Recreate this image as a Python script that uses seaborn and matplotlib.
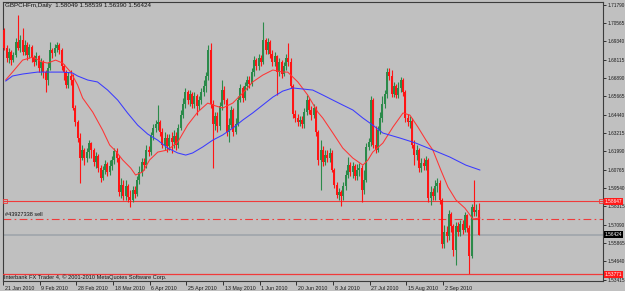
import numpy as np
import pandas as pd
import seaborn as sns
import matplotlib.pyplot as plt
import matplotlib.transforms as mtransforms

# daily GBPCHF bars, 21 Jan 2010 .. Sep 2010
first_open = 1.7009
closes = [
    1.6889, 1.6822, 1.6862, 1.6808, 1.6842, 1.6929, 1.6889, 1.6942, 1.6862, 1.6909,
    1.6842, 1.6895, 1.6822, 1.6795, 1.6835, 1.6755, 1.6795, 1.6728, 1.6675, 1.6755,
    1.6875, 1.6855, 1.6889, 1.6909, 1.6875, 1.6768, 1.6728, 1.6642, 1.6702, 1.6675,
    1.6488, 1.6395, 1.6288, 1.6154, 1.6208, 1.6154, 1.6194, 1.6254, 1.6208, 1.6127,
    1.6168, 1.6087, 1.6021, 1.6074, 1.6114, 1.6061, 1.6101, 1.6141, 1.6201, 1.6154,
    1.5927, 1.5974, 1.5901, 1.5967, 1.5894, 1.5874, 1.5941, 1.5914, 1.6007, 1.6061,
    1.6127, 1.6107, 1.6208, 1.6194, 1.6308, 1.6354, 1.6381, 1.6395, 1.6328, 1.6241,
    1.6288, 1.6234, 1.6288, 1.6261, 1.6301, 1.6241, 1.6354, 1.6441, 1.6515, 1.6595,
    1.6541, 1.6581, 1.6515, 1.6568, 1.6501, 1.6541, 1.6595, 1.6635, 1.6702, 1.6875,
    1.6515, 1.6381, 1.6435, 1.6368, 1.6501, 1.6608, 1.6541, 1.6328, 1.6374, 1.6475,
    1.6328, 1.6381, 1.6541, 1.6622, 1.6555, 1.6635, 1.6675, 1.6648, 1.6728, 1.6808,
    1.6768, 1.6822, 1.6795, 1.6942, 1.6875, 1.6929, 1.6848, 1.6795, 1.6835, 1.6728,
    1.6795, 1.6715, 1.6768, 1.6822, 1.6795, 1.6635, 1.6448, 1.6421, 1.6395, 1.6408,
    1.6381, 1.6461, 1.6541, 1.6475, 1.6441, 1.6488, 1.6328, 1.6141, 1.6208, 1.6127,
    1.6174, 1.6154, 1.6188, 1.6074, 1.5974, 1.5907, 1.5927, 1.5901, 1.5967, 1.6041,
    1.6107, 1.6061, 1.6101, 1.6034, 1.6074, 1.6087, 1.5941, 1.6007, 1.6228, 1.6261,
    1.6541, 1.6241, 1.6208, 1.6341, 1.6421, 1.6515, 1.6581, 1.6728, 1.6702, 1.6581,
    1.6635, 1.6575, 1.6622, 1.6675, 1.6595, 1.6421, 1.6395, 1.6401, 1.6241, 1.6174,
    1.6208, 1.6087, 1.6121, 1.6101, 1.6141, 1.5887, 1.5927, 1.5901, 1.5967, 1.5987,
    1.5874, 1.5580, 1.5660, 1.5633, 1.5780, 1.5700, 1.5540, 1.5700, 1.5660, 1.5714,
    1.5674, 1.5774, 1.5687, 1.5500, 1.5827, 1.5794, 1.58049, 1.56424,
]
highs = [
    1.7022, 1.6909, 1.6889, 1.6875, 1.6862, 1.6955, 1.7109, 1.6975, 1.7022, 1.6942,
    1.6929, 1.6915, 1.6909, 1.6842, 1.6862, 1.6842, 1.6822, 1.6808, 1.6742, 1.6795,
    1.6929, 1.6889, 1.6915, 1.6929, 1.6922, 1.6889, 1.6782, 1.6742, 1.6728, 1.6742,
    1.6715, 1.6508, 1.6408, 1.6321, 1.6241, 1.6221, 1.6221, 1.6274, 1.6261, 1.6221,
    1.6194, 1.6181, 1.6107, 1.6101, 1.6141, 1.6127, 1.6141, 1.6168, 1.6221, 1.6221,
    1.6174, 1.6021, 1.6007, 1.6007, 1.5981, 1.5941, 1.5967, 1.5967, 1.6034, 1.6101,
    1.6154, 1.6154, 1.6241, 1.6234, 1.6328, 1.6381, 1.6408, 1.6508, 1.6408, 1.6354,
    1.6328, 1.6314, 1.6314, 1.6328, 1.6341, 1.6328, 1.6381, 1.6475, 1.6555, 1.6622,
    1.6608, 1.6608, 1.6595, 1.6595, 1.6581, 1.6568, 1.6622, 1.6675, 1.6728, 1.6909,
    1.6922, 1.6541, 1.6461, 1.6461, 1.6528, 1.6675, 1.6635, 1.6555, 1.6421, 1.6501,
    1.6488, 1.6421, 1.6568, 1.6648, 1.6635, 1.6662, 1.6702, 1.6702, 1.6755, 1.6835,
    1.6822, 1.6848, 1.6842, 1.7062, 1.6955, 1.6955, 1.6942, 1.6875, 1.6862, 1.6842,
    1.6822, 1.6808, 1.6795, 1.6848, 1.6922, 1.6822, 1.6648, 1.6475, 1.6448, 1.6435,
    1.6435, 1.6488, 1.6575, 1.6555, 1.6501, 1.6515, 1.6501, 1.6341, 1.6274, 1.6234,
    1.6208, 1.6208, 1.6221, 1.6208, 1.6087, 1.5994, 1.5954, 1.5941, 1.5994, 1.6074,
    1.6161, 1.6127, 1.6127, 1.6114, 1.6114, 1.6121, 1.6107, 1.6074, 1.6254, 1.6288,
    1.6568, 1.6555, 1.6368, 1.6368, 1.6461, 1.6568, 1.6608, 1.6755, 1.6755, 1.6742,
    1.6662, 1.6648, 1.6662, 1.6695, 1.6688, 1.6608, 1.6448, 1.6435, 1.6421, 1.6274,
    1.6241, 1.6221, 1.6154, 1.6154, 1.6168, 1.6154, 1.5967, 1.5954, 1.6007, 1.6021,
    1.6007, 1.5887, 1.5707, 1.5700, 1.5807, 1.5794, 1.5714, 1.5727, 1.5727, 1.5740,
    1.5740, 1.5794, 1.5780, 1.5707, 1.5847, 1.6007, 1.5847, 1.58539,
]
lows = [
    1.6875, 1.6795, 1.6788, 1.6775, 1.6795, 1.6828, 1.6875, 1.6862, 1.6842, 1.6842,
    1.6808, 1.6822, 1.6795, 1.6768, 1.6775, 1.6728, 1.6708, 1.6688, 1.6595, 1.6642,
    1.6742, 1.6822, 1.6835, 1.6862, 1.6848, 1.6742, 1.6675, 1.6622, 1.6622, 1.6642,
    1.6475, 1.6368, 1.6261, 1.5987, 1.6141, 1.6107, 1.6127, 1.6154, 1.6154, 1.6101,
    1.6087, 1.6061, 1.5994, 1.6007, 1.6047, 1.6034, 1.6041, 1.6074, 1.6114, 1.6127,
    1.5901, 1.5887, 1.5874, 1.5874, 1.5860, 1.5827, 1.5860, 1.5887, 1.5901, 1.5981,
    1.6034, 1.6074, 1.6087, 1.6168, 1.6174, 1.6274, 1.6328, 1.6341, 1.6301, 1.6221,
    1.6208, 1.6194, 1.6208, 1.6188, 1.6221, 1.6208, 1.6221, 1.6341, 1.6421, 1.6488,
    1.6515, 1.6501, 1.6488, 1.6488, 1.6441, 1.6475, 1.6515, 1.6568, 1.6595, 1.6675,
    1.6488, 1.6087, 1.6341, 1.6328, 1.6341, 1.6475, 1.6515, 1.6301, 1.6261, 1.6354,
    1.6301, 1.6314, 1.6368, 1.6528, 1.6528, 1.6541, 1.6608, 1.6622, 1.6635, 1.6702,
    1.6742, 1.6742, 1.6768, 1.6782, 1.6848, 1.6848, 1.6822, 1.6768, 1.6768, 1.6575,
    1.6702, 1.6688, 1.6702, 1.6742, 1.6768, 1.6622, 1.6421, 1.6395, 1.6368, 1.6368,
    1.6354, 1.6354, 1.6441, 1.6448, 1.6408, 1.6421, 1.6301, 1.6107, 1.5941, 1.6101,
    1.6107, 1.6127, 1.6127, 1.6061, 1.5954, 1.5887, 1.5874, 1.5834, 1.5874, 1.5941,
    1.6021, 1.6034, 1.6021, 1.6007, 1.6007, 1.6034, 1.5860, 1.5914, 1.5994, 1.6208,
    1.6234, 1.6221, 1.6188, 1.6194, 1.6314, 1.6395, 1.6488, 1.6555, 1.6675, 1.6561,
    1.6561, 1.6555, 1.6555, 1.6595, 1.6568, 1.6395, 1.6368, 1.6354, 1.6221, 1.6107,
    1.6141, 1.6061, 1.6061, 1.6074, 1.6074, 1.5860, 1.5840, 1.5874, 1.5874, 1.5927,
    1.5847, 1.5553, 1.5553, 1.5593, 1.5607, 1.5660, 1.5500, 1.5440, 1.5633, 1.5633,
    1.5647, 1.5660, 1.5660, 1.5380, 1.5487, 1.5767, 1.5767, 1.56390,
]

# moving averages (bar position, price)
red_ma_bar = [0.6, 3.6, 8.0, 12.4, 16.7, 18.9, 22.4, 25.5, 29.0, 32.0,
              34.2, 38.6, 42.9, 46.0, 48.6, 51.7, 55.2, 57.3, 60.4, 63.4,
              67.0, 71.3, 75.7, 80.0, 84.4, 88.8, 91.0, 95.3, 99.7, 104.1,
              108.4, 112.8, 117.2, 121.5, 123.7, 128.1, 132.4, 136.8, 139.0, 143.4,
              147.7, 152.1, 156.5, 158.7, 160.8, 165.2, 169.6, 174.0, 177.0, 180.5,
              184.0, 187.0, 190.5, 193.6, 197.1, 201.0, 204.5, 207.6]
red_ma_price = [1.6675, 1.6728, 1.6808, 1.6828, 1.6795, 1.6788, 1.6808, 1.6788, 1.6728, 1.6642,
                1.6555, 1.6461, 1.6341, 1.6241, 1.6201, 1.6141, 1.6087, 1.6041, 1.6061, 1.6141,
                1.6194, 1.6208, 1.6261, 1.6374, 1.6461, 1.6521, 1.6508, 1.6488, 1.6521, 1.6588,
                1.6662, 1.6708, 1.6742, 1.6728, 1.6728, 1.6662, 1.6575, 1.6461, 1.6421, 1.6321,
                1.6221, 1.6154, 1.6107, 1.6141, 1.6194, 1.6254, 1.6361, 1.6455, 1.6441, 1.6361,
                1.6274, 1.6208, 1.6074, 1.5961, 1.5874, 1.5820, 1.5747, 1.5754]
blue_ma_bar = [0.6, 3.6, 8.0, 14.5, 21.1, 25.5, 29.8, 32.0, 36.4, 40.7,
               45.1, 49.5, 53.8, 58.2, 62.6, 66.9, 71.3, 75.7, 79.2, 82.2,
               86.6, 91.0, 95.3, 99.7, 104.1, 108.4, 112.8, 117.2, 121.5, 125.9,
               130.3, 134.6, 139.0, 143.4, 147.7, 152.1, 156.5, 160.8, 165.2, 172.6,
               179.6, 187.0, 194.4, 201.4, 207.6]
blue_ma_price = [1.6668, 1.6702, 1.6715, 1.6728, 1.6728, 1.6728, 1.6722, 1.6702, 1.6675, 1.6662,
                 1.6608, 1.6541, 1.6455, 1.6374, 1.6314, 1.6274, 1.6221, 1.6188, 1.6174, 1.6188,
                 1.6228, 1.6274, 1.6308, 1.6354, 1.6408, 1.6455, 1.6508, 1.6561, 1.6601, 1.6622,
                 1.6615, 1.6608, 1.6575, 1.6541, 1.6508, 1.6475, 1.6421, 1.6374, 1.6321, 1.6288,
                 1.6254, 1.6208, 1.6161, 1.6107, 1.6074]

date_bars = [0, 16, 32, 48, 64, 80, 96, 112, 128, 144, 160, 176, 192]
date_labels = ["21 Jan 2010", "9 Feb 2010", "28 Feb 2010", "18 Mar 2010", "6 Apr 2010",
               "25 Apr 2010", "13 May 2010", "1 Jun 2010", "20 Jun 2010", "8 Jul 2010",
               "27 Jul 2010", "15 Aug 2010", "2 Sep 2010"]
price_ticks = [1.71790, 1.70565, 1.69340, 1.68115, 1.66890, 1.65665, 1.64440, 1.63215,
               1.61990, 1.60765, 1.59540, 1.58315, 1.57090, 1.55865, 1.54640, 1.53415]

upper_line = 1.58647
order_line = 1.57470
bid = 1.56424
lower_line = 1.53771
title = "GBPCHFm,Daily  1.58049 1.58539 1.56390 1.56424"
order_text = "#43927338 sell"
footer = "Interbank FX Trader 4, \u00a9 2001-2010 MetaQuotes Software Corp."

bg = "#c0c0c0"
bull = "#2b8a4a"
bear = "#ff1414"
line_red = "#f03a3a"

sns.set_theme(style="white", rc={"axes.facecolor": bg, "figure.facecolor": bg})
plt.rcParams["font.family"] = ["Liberation Sans", "DejaVu Sans"]

fig = plt.figure(figsize=(6.25, 2.91), dpi=100)
ax = fig.add_axes([3 / 625, 10 / 291, 600 / 625, 279.5 / 291])

bars = pd.DataFrame({"bar": np.arange(len(closes)), "close": closes, "high": highs, "low": lows})
bars["open"] = [first_open] + closes[:-1]
rising = bars["close"] >= bars["open"]
colors = np.where(rising, bull, bear)
body_low = bars[["open", "close"]].min(axis=1)
body_h = (bars["close"] - bars["open"]).abs().clip(lower=0.00025)

ax.vlines(bars["bar"], bars["low"], bars["high"], colors=colors, lw=0.8, zorder=3)
ax.bar(bars["bar"], body_h, bottom=body_low, width=0.86, color=colors, linewidth=0, zorder=4)

ma = pd.concat([
    pd.DataFrame({"bar": red_ma_bar, "price": red_ma_price, "ma": "fast"}),
    pd.DataFrame({"bar": blue_ma_bar, "price": blue_ma_price, "ma": "slow"}),
])
sns.lineplot(data=ma, x="bar", y="price", hue="ma", estimator=None, sort=False,
             palette={"fast": "#ff3434", "slow": "#3a3aff"}, lw=0.75, legend=False,
             ax=ax, zorder=5)

blend = mtransforms.blended_transform_factory(ax.transAxes, ax.transData)
ax.axhline(upper_line, color=line_red, lw=0.8, zorder=2)
ax.axhline(order_line, color=line_red, lw=0.8, dashes=(7, 3, 1.5, 3), zorder=2)
ax.axhline(bid, color="#a4a9ae", lw=1.4, zorder=1)
ax.axhline(lower_line, color=line_red, lw=0.9, zorder=6)
ax.plot([0.003, 0.996], [upper_line, upper_line], "s", mfc="none", mec=line_red,
        ms=2.2, mew=0.6, transform=blend, clip_on=False, zorder=6)

ax.text(0.004, order_line + 0.0012, order_text, transform=blend, fontsize=4, color="#111111",
        va="bottom", ha="left")

for level, box in [(upper_line, "#ff1a1a"), (bid, "#000000"), (lower_line, "#ff1a1a")]:
    ax.text(1.003, level, f"{level:.5f}", transform=blend, fontsize=3.4, color="white",
            va="center", ha="left", clip_on=False, zorder=10,
            bbox=dict(boxstyle="square,pad=0.25", fc=box, ec="none"))

ax.set_xlim(-0.55, -0.55 + 600 / 2.2917)
ax.set_ylim(1.53333, 1.71992)

ax.yaxis.tick_right()
ax.set_yticks(price_ticks)
ax.set_yticklabels([f"{p:.5f}" for p in price_ticks])
ax.tick_params(axis="y", right=True, length=2, width=0.6, pad=1.0, labelsize=3.4,
               colors="#1a1a1a", direction="out")

ax.set_xticks([b - 0.5 for b in date_bars])
ax.set_xticklabels(date_labels, ha="left")
ax.tick_params(axis="x", bottom=True, length=3, width=0.6, pad=0.8, labelsize=3.8,
               colors="#1a1a1a", direction="out")
shift = mtransforms.ScaledTranslation(1.5 / 100, 0, fig.dpi_scale_trans)
for lab in ax.get_xticklabels():
    lab.set_transform(lab.get_transform() + shift)

ax.set_xlabel("")
ax.set_ylabel("")
for side in ["left", "right", "top", "bottom"]:
    ax.spines[side].set_visible(True)
    ax.spines[side].set_color("#3c3c3c")
    ax.spines[side].set_linewidth(0.8)

fig.text(5 / 625, 1 - 6 / 291, title, fontsize=4.5, color="#111111", va="center", ha="left")
fig.text(4 / 625, 1 - 277.5 / 291, footer, fontsize=4.1, color="#111111", va="center", ha="left")

fig.savefig("out.png", dpi=100, facecolor=bg)
